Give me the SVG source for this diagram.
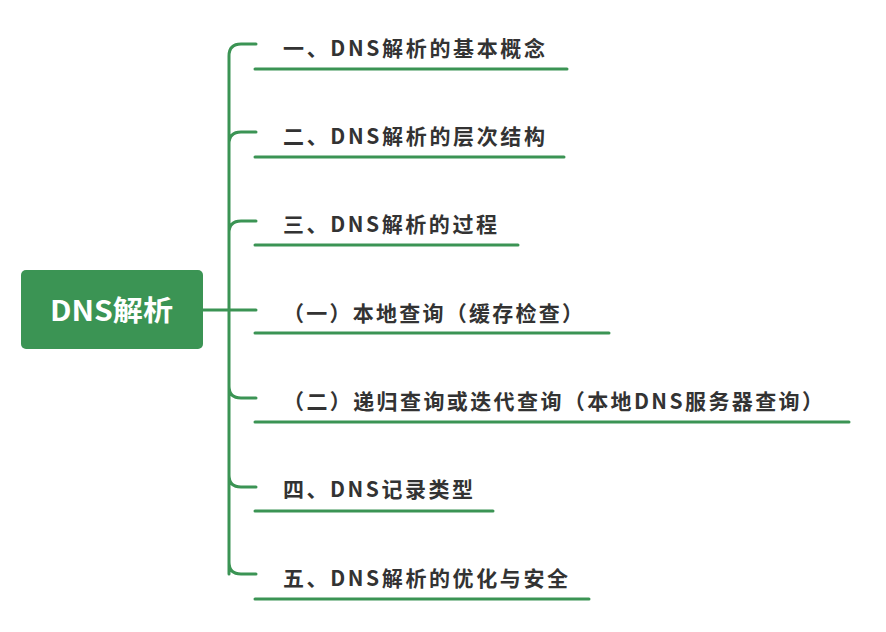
<svg xmlns="http://www.w3.org/2000/svg" width="886" height="632" viewBox="0 0 886 632">
<style>
.c{fill:none;stroke:#3b9454;stroke-width:3;stroke-linecap:round}
.t{font-family:"Noto Sans CJK SC","Noto Sans",sans-serif;font-size:21px;font-weight:bold;fill:#333}
</style>
<rect width="886" height="632" fill="#fff"/>
<g id="connectors">
<path class="c" d="M203 310H256M229 574V56Q229 44 241 44H256M229 144Q229 132 241 132H256M229 233Q229 221 241 221H256M229 386Q229 398 241 398H256M229 475Q229 487 241 487H256M229 562Q229 574 241 574H256"/>
<path class="c" d="M255 69H567M255 157H564M255 245H518M255 333H609M255 422H849M255 511H493M255 599H589"/>
</g>
<g id="root"><rect x="21" y="270" width="182" height="79" rx="5" fill="#3b9454"/>
<text x="50" y="321" textLength="123" lengthAdjust="spacingAndGlyphs" font-family="Noto Sans CJK SC,sans-serif" font-size="28" font-weight="bold" fill="#fff">DNS解析</text></g>
<g id="n1"><text class="t" x="283" y="56" textLength="262">一、DNS解析的基本概念</text></g>
<g id="n2"><text class="t" x="283" y="144" textLength="262">二、DNS解析的层次结构</text></g>
<g id="n3"><text class="t" x="283" y="232" textLength="214">三、DNS解析的过程</text></g>
<g id="n4"><text class="t" x="283" y="321" textLength="300">（一）本地查询（缓存检查）</text></g>
<g id="n5"><text class="t" x="283" y="409" textLength="540">（二）递归查询或迭代查询（本地DNS服务器查询）</text></g>
<g id="n6"><text class="t" x="283" y="497" textLength="190">四、DNS记录类型</text></g>
<g id="n7"><text class="t" x="283" y="586" textLength="285">五、DNS解析的优化与安全</text></g>
</svg>
